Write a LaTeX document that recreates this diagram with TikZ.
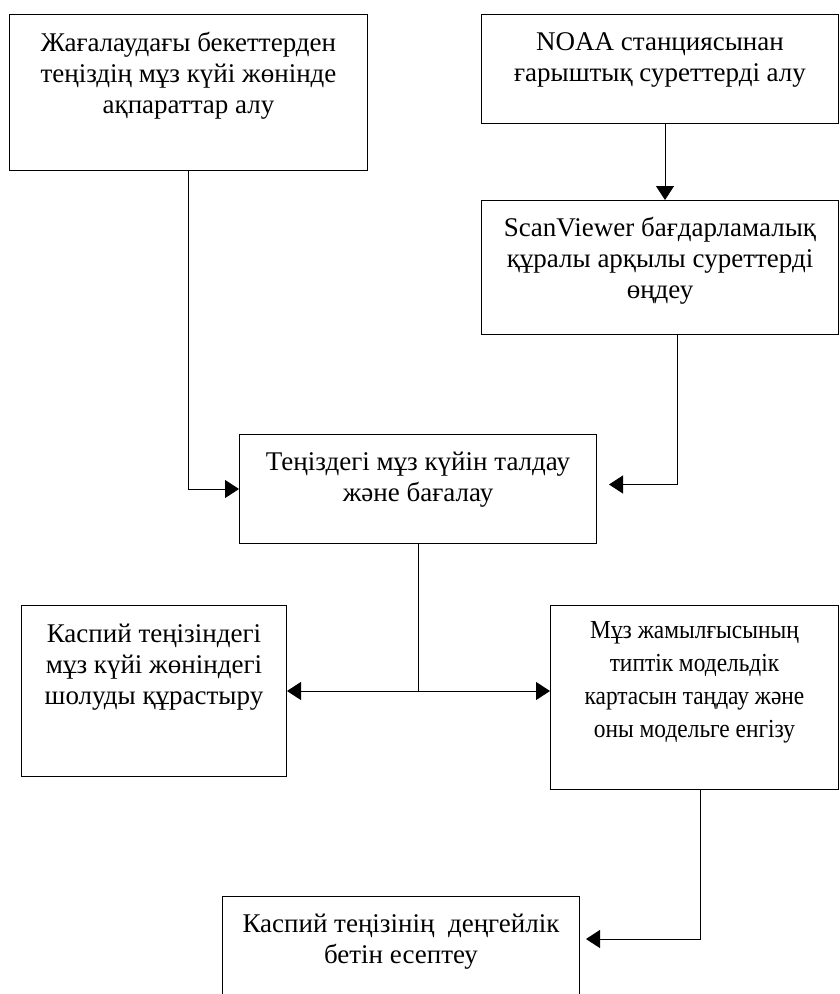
\documentclass[tikz,border=0pt]{standalone}
\usepackage{fontspec}
\setmainfont{Liberation Serif}
\newfontfamily\condfont[FakeStretch=0.9]{Liberation Serif}
\usetikzlibrary{arrows.meta}
\begin{document}
\begin{tikzpicture}[x=1pt,y=-1pt,
  boxnode/.style={draw, line width=1pt, inner sep=0pt, anchor=north west},
  lbl/.style={anchor=north, inner sep=0pt, align=center, font=\fontsize{27}{31}\selectfont},
  conn/.style={line width=1pt},
  arr/.style={conn, -{Triangle[length=14pt,width=18pt]}}]
\useasboundingbox (0,0) rectangle (839,994);
\clip (0,0) rectangle (839,994);

\node[boxnode, minimum width=358pt, minimum height=156pt] (b1) at (9,14) {};
\node[boxnode, minimum width=357pt, minimum height=109pt] (b2) at (481,14) {};
\node[boxnode, minimum width=357pt, minimum height=134pt] (b3) at (481,200) {};
\node[boxnode, minimum width=357pt, minimum height=109pt] (b4) at (239,434) {};
\node[boxnode, minimum width=265pt, minimum height=171pt] (b5) at (21,605) {};
\node[boxnode, minimum width=288pt, minimum height=184pt] (b6) at (550,605) {};
\node[boxnode, minimum width=357pt, minimum height=120pt] (b7) at (222,896) {};

\node[lbl] (t1) at ([yshift=-18pt]b1.north) {Жағалаудағы бекеттерден\\теңіздің мұз күйі жөнінде\\ақпараттар алу};
\node[lbl] (t2) at ([yshift=-18pt]b2.north) {NOAA станциясынан\\ғарыштық суреттерді алу};
\node[lbl] (t3) at ([yshift=-17pt]b3.north) {ScanViewer бағдарламалық\\құралы арқылы суреттерді\\өңдеу};
\node[lbl] (t4) at ([yshift=-18pt]b4.north) {Теңіздегі мұз күйін талдау\\және бағалау};
\node[lbl] (t5) at ([yshift=-19pt]b5.north) {Каспий теңізіндегі\\мұз күйі жөніндегі\\шолуды құрастыру};
\node[lbl, font=\condfont\fontsize{26}{33}\selectfont] (t6) at ([yshift=-16pt]b6.north) {Мұз жамылғысының\\типтік модельдік\\картасын таңдау және\\оны модельге енгізу};
\node[lbl] (t7) at ([yshift=-18pt]b7.north) {Каспий теңізінің\ \ деңгейлік\\бетін есептеу};

\draw[arr] (b1.south) |- (b4.west);
\draw[arr] ([xshift=5pt]b2.south) -- ([xshift=5pt]b3.north);
\draw[arr, shorten >=12pt] ([xshift=17pt]b3.south) |- ([yshift=4.5pt]b4.east);
\coordinate (j) at (b4.south |- b5.east);
\draw[conn] (b4.south) -- (j);
\draw[arr] (j) -- (b5.east);
\draw[arr] (j) -- (j -| b6.west);
\draw[arr, shorten >=6pt] ([xshift=6pt]b6.south) |- ([yshift=-43pt]b7.north east);
\end{tikzpicture}
\end{document}
